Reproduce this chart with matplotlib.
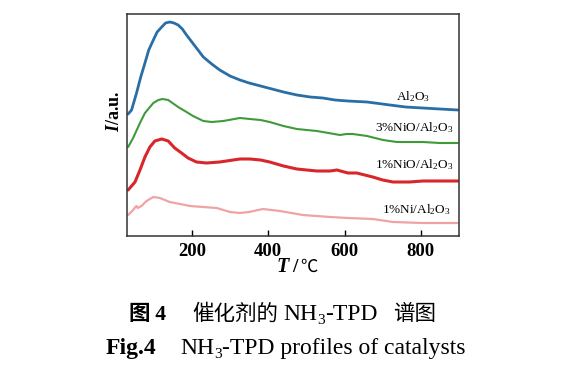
import matplotlib

matplotlib.use("Agg")
import matplotlib.pyplot as plt

plt.rcParams["font.family"] = ["Liberation Serif", "DejaVu Serif"]
plt.rcParams["mathtext.fontset"] = "custom"
plt.rcParams["mathtext.rm"] = "Liberation Serif"
plt.rcParams["mathtext.it"] = "Liberation Serif:italic"
plt.rcParams["mathtext.bf"] = "Liberation Serif:bold"
plt.rcParams["mathtext.bfit"] = "Liberation Serif:italic:bold"

# temperature (deg C) and intensity (a.u., stacked offsets)
T_AL = [33, 42, 55, 66, 77, 87, 99, 109, 121, 131, 142, 153, 164, 175, 186,
        208, 230, 252, 273, 300, 326, 350, 380, 410, 440, 475, 510, 543, 575,
        609, 659, 719, 760, 805, 850, 897]
I_AL = [122, 126, 143, 159, 173, 186, 196, 204, 209, 213, 214, 213, 211, 207,
        201, 190, 179, 172, 166, 160, 156, 153, 150, 147, 144, 141, 139, 138,
        136, 135, 134, 131, 129, 128, 127, 126]

T_3NIO = [33, 46, 64, 77, 99, 112, 123, 138, 164, 186, 203, 230, 252, 282,
          326, 352, 380, 404, 440, 475, 527, 543, 588, 605, 622, 659, 701, 737,
          770, 805, 850, 897]
I_3NIO = [89, 98, 113, 123, 133, 136, 137, 136, 129, 124, 120, 115, 114, 115,
          118, 117, 116, 114, 110, 107, 105, 104, 101, 102, 102, 100, 96, 94,
          94, 94, 93, 93]

T_1NIO = [33, 51, 64, 77, 90, 103, 121, 138, 155, 173, 190, 212, 238, 273,
          326, 352, 380, 404, 440, 475, 527, 562, 580, 609, 632, 674, 700, 727,
          770, 805, 850, 897]
I_1NIO = [46, 54, 66, 79, 89, 95, 97, 95, 88, 83, 78, 74, 73, 74, 77, 77, 76,
          74, 70, 67, 65, 65, 66, 63, 63, 59, 56, 54, 54, 55, 55, 55]

T_1NI = [33, 46, 52, 55, 58, 68, 81, 99, 116, 142, 169, 195, 230, 265, 300,
         326, 350, 386, 431, 491, 562, 609, 674, 727, 805, 897]
I_1NI = [21, 26, 29, 30, 28, 30, 35, 39, 38, 34, 32, 30, 29, 28, 24, 23, 24,
         27, 25, 21, 19, 18, 17, 14, 13, 13]

SERIES = [
    (T_AL, I_AL, "#2a6ea6", 2.0),
    (T_3NIO, I_3NIO, "#3f9b3a", 1.5),
    (T_1NIO, I_1NIO, "#d8262a", 2.2),
    (T_1NI, I_1NI, "#f0a3a3", 1.6),
]
LABELS = [
    ("Al$_2$O$_3$", 824, 139),
    ("3%NiO/Al$_2$O$_3$", 884, 108),
    ("1%NiO/Al$_2$O$_3$", 884, 71),
    ("1%Ni/Al$_2$O$_3$", 878, 26),
]
XTICKS = [200, 400, 600, 800]

W, H = 574, 373
CJK = ["Noto Sans CJK SC", "DejaVu Sans"]


def put(fig, x, y, pieces):
    """Place text pieces one after another; x, y in pixels from top-left (baseline)."""
    r = fig.canvas.get_renderer()
    for s, size, kw, dy in pieces:
        t = fig.text(x, H - y + dy, s, fontsize=size, va="baseline", ha="left",
                     transform=None, **kw)
        x += t.get_window_extent(r).width
    return x


fig = plt.figure(figsize=(W / 100, H / 100), dpi=100)
ax = fig.add_axes([127 / W, 1 - 236 / H, 332 / W, 222 / H])

for t, i, c, lw in SERIES:
    ax.plot(t, i, color=c, lw=lw, solid_joinstyle="round", solid_capstyle="round")
for s, x, y in LABELS:
    ax.text(x, y, s, fontsize=9.5, ha="right", va="center")

ax.set_xlim(30, 900)
ax.set_ylim(0, 222)
ax.set_xticks(XTICKS)
ax.set_xticklabels([str(v) for v in XTICKS], fontsize=13.5, fontweight="bold")
ax.set_yticks([])
ax.tick_params(axis="x", direction="in", length=4, width=1, pad=5)
for sp in ax.spines.values():
    sp.set_linewidth(1.1)
    sp.set_color("#333333")

ax.set_ylabel(r"$\mathbfit{I}$/a.u.", fontsize=13, fontweight="bold")
ax.yaxis.set_label_coords(-0.013, 0.56)

# x label: bold italic T, slash, CJK-style degree sign
put(fig, 277, 272, [("T", 14.5, dict(style="italic", weight="bold"), 0)])
put(fig, 292, 272, [("/", 14, dict(weight="bold"), 0)])
put(fig, 300, 272, [("℃", 12.5, dict(family=CJK), 0)])

# captions
put(fig, 128, 320, [("图", 15.5, dict(family=CJK, weight="bold"), 0),
                    (" 4", 15.5, dict(weight="bold"), 0)])
put(fig, 192, 320, [("催化剂的", 15.5, dict(family=CJK), 0)])
put(fig, 283, 320, [("NH", 17, {}, 0),
                    ("3", 11, {}, -4),
                    ("-TPD", 17, {}, 0)])
put(fig, 393, 320, [("谱图", 15.5, dict(family=CJK), 0)])
put(fig, 106, 354, [("Fig.4", 17, dict(weight="bold"), 0)])
put(fig, 180, 354, [("NH", 17, {}, 0),
                    ("3", 11, {}, -4),
                    ("-TPD profiles of catalysts", 17, {}, 0)])

fig.savefig("out.png", dpi=100)
